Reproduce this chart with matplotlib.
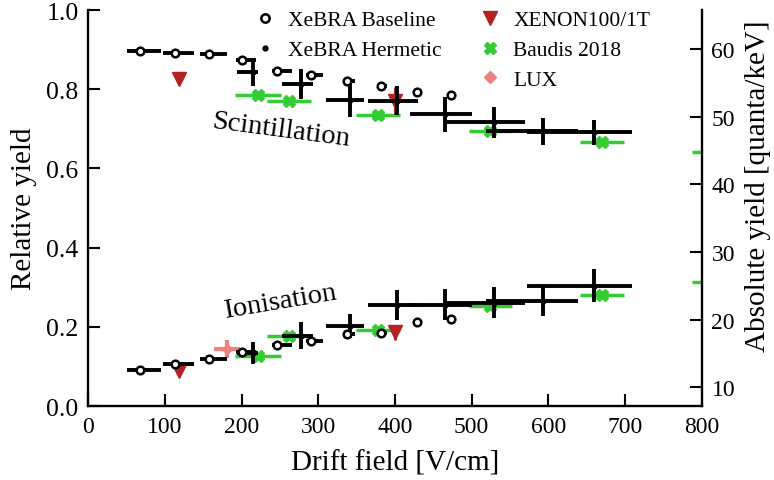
import matplotlib
matplotlib.use("Agg")
import matplotlib.pyplot as plt
from matplotlib.lines import Line2D

plt.rcParams["font.family"] = ["Liberation Serif", "DejaVu Serif"]

# XeBRA baseline: asymmetric field spread on x
base_field = [68, 113, 157, 200, 246, 290, 338, 382, 429, 473]
base_field_lo = [17.5, 16, 11, 7, 6.5, 5.5, 5, 5, 4, 3]
base_field_hi = [26.5, 25, 24, 19, 19.5, 16, 10, 8, 6, 4]
base_scint = [0.897, 0.891, 0.889, 0.874, 0.847, 0.836, 0.821, 0.807, 0.792, 0.785]
base_ion = [0.092, 0.106, 0.120, 0.136, 0.154, 0.163, 0.182, 0.184, 0.211, 0.221]

# XeBRA hermetic
herm_field = [215, 278, 341, 402, 465, 529, 593, 659]
herm_field_lo = [21.6, 26, 31, 37, 45.6, 61, 74, 87]
herm_field_hi = [6.5, 15, 18, 28, 34.8, 41, 45.6, 50]
herm_scint = [0.843, 0.813, 0.773, 0.771, 0.737, 0.716, 0.694, 0.691]
herm_scint_err = [0.036, 0.038, 0.043, 0.036, 0.044, 0.038, 0.034, 0.032]
herm_ion = [0.134, 0.178, 0.203, 0.254, 0.256, 0.261, 0.265, 0.304]
herm_ion_err = [0.028, 0.033, 0.030, 0.038, 0.039, 0.039, 0.037, 0.042]

# XENON100/1T
xenon_field = [118, 400]
xenon_scint = [0.826, 0.771]
xenon_scint_err = [0.0, 0.034]
xenon_ion = [0.089, 0.186]
xenon_ion_err = [0.0, 0.019]

# Baudis 2018
baudis_field = [221, 262, 378, 524, 670, 816]
baudis_field_err = [30, 29, 29, 28, 29, 29]
baudis_scint = [0.785, 0.770, 0.736, 0.694, 0.667, 0.642]
baudis_ion = [0.126, 0.178, 0.193, 0.253, 0.281, 0.312]

# LUX
lux_field = [181]
lux_field_err = [17]
lux_ion = [0.144]
lux_ion_err = [0.023]

GREEN = "#33cc33"
RED = "#b22222"
PINK = "#f08080"

fig = plt.figure(figsize=(7.74, 4.81), dpi=100)
ax = fig.add_axes([0.1141, 0.1538, 0.7925, 0.8233])

for yv in (baudis_scint, baudis_ion):
    ax.errorbar(baudis_field, yv, xerr=baudis_field_err, yerr=0.008, fmt="X",
                color=GREEN, ms=8.5, elinewidth=2.5, capsize=0, zorder=2)
for yv, ye in ((xenon_scint, xenon_scint_err), (xenon_ion, xenon_ion_err)):
    ax.errorbar(xenon_field, yv, yerr=ye, fmt="v", color=RED, ms=9.5,
                elinewidth=2.2, capsize=0, zorder=2)
ax.errorbar(lux_field, lux_ion, xerr=lux_field_err, yerr=lux_ion_err, fmt="D",
            color=PINK, ms=5, elinewidth=3, capsize=0, zorder=2)

herm_xerr = [herm_field_lo, herm_field_hi]
for yv, ye in ((herm_scint, herm_scint_err), (herm_ion, herm_ion_err)):
    ax.errorbar(herm_field, yv, xerr=herm_xerr, yerr=ye, fmt="o", color="black",
                ms=3.5, elinewidth=2.8, capsize=0, zorder=3)

base_xerr = [base_field_lo, base_field_hi]
for yv in (base_scint, base_ion):
    ax.errorbar(base_field, yv, xerr=base_xerr, fmt="o", color="black", mfc="white",
                mec="black", ms=5.5, mew=1.8, elinewidth=2.8, capsize=0, zorder=4)

ax.text(251, 0.697, "Scintillation", fontsize=20.5, rotation=-7.5,
        ha="center", va="center", rotation_mode="anchor")
ax.text(250, 0.265, "Ionisation", fontsize=20.5, rotation=9.5,
        ha="center", va="center", rotation_mode="anchor")

ax.set_xlim(0, 800)
ax.set_ylim(0, 1)
ax.set_xlabel("Drift field [V/cm]", fontsize=21, labelpad=9)
ax.set_ylabel("Relative yield", fontsize=21, labelpad=7)
ax.spines["top"].set_visible(False)
ax.spines["right"].set_visible(False)
for s in ("left", "bottom"):
    ax.spines[s].set_linewidth(1.7)
ax.tick_params(direction="in", length=8.5, width=1.5, labelsize=17, pad=7)
ax.tick_params(axis="y", labelsize=18.5)

ax2 = ax.twinx()
ax2.set_ylim(7.24, 65.76)
ax2.set_yticks([10, 20, 30, 40, 50, 60])
for s in ("top", "left", "bottom"):
    ax2.spines[s].set_visible(False)
ax2.spines["right"].set_linewidth(1.7)
ax2.tick_params(direction="in", length=8.5, width=1.5, labelsize=17, pad=7)
ax2.set_ylabel("Absolute yield [quanta/keV]", fontsize=21)
ax2.yaxis.set_label_coords(1.07, 0.557)

h_base = Line2D([], [], ls="none", marker="o", mfc="white", mec="black", ms=6, mew=1.8)
h_herm = Line2D([], [], ls="none", marker="o", color="black", ms=3.5)
h_xenon = Line2D([], [], ls="none", marker="v", color=RED, ms=9.5)
h_baudis = Line2D([], [], ls="none", marker="X", color=GREEN, ms=8.5)
h_lux = Line2D([], [], ls="none", marker="D", color=PINK, ms=6)

leg_kw = dict(frameon=False, fontsize=15.5, handlelength=1.0, handletextpad=0.6,
              labelspacing=0.46, borderpad=0, borderaxespad=0, numpoints=1,
              loc="upper left", bbox_transform=fig.transFigure)
leg1 = ax2.legend([h_base, h_herm], ["XeBRA Baseline", "XeBRA Hermetic"],
                  bbox_to_anchor=(254 / 774, 1 - 11 / 481), **leg_kw)
ax2.add_artist(leg1)
ax2.legend([h_xenon, h_baudis, h_lux], ["XENON100/1T", "Baudis 2018", "LUX"],
           bbox_to_anchor=(479 / 774, 1 - 11 / 481), **leg_kw)

fig.savefig("out.png", dpi=100)
